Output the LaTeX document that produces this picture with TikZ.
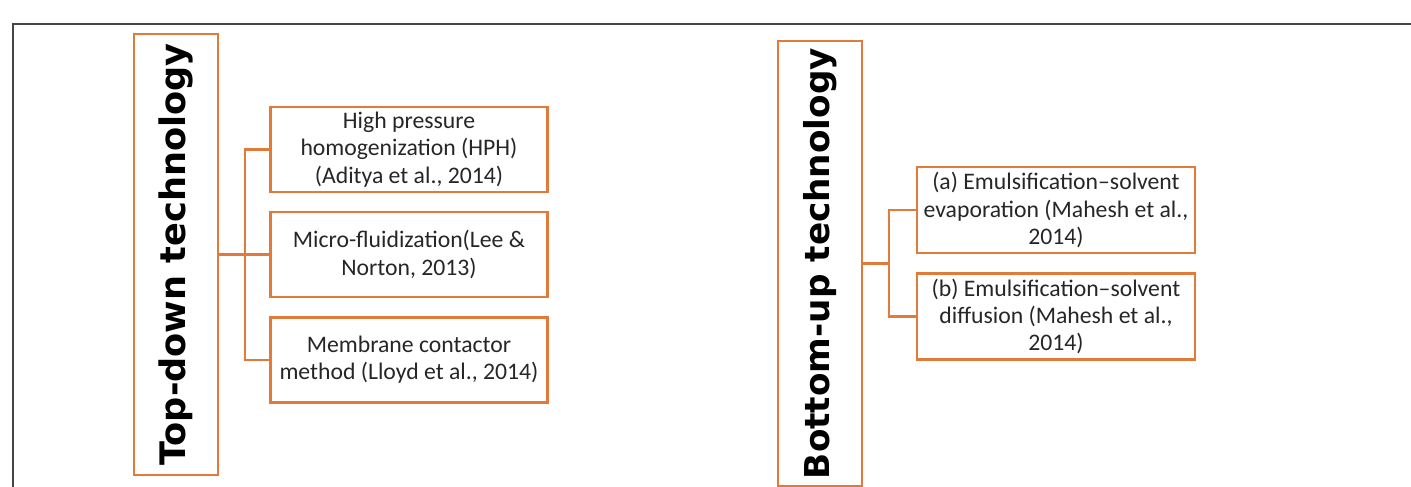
\documentclass[tikz,border=0pt]{standalone}
\usepackage{fontspec}
\setmainfont{Carlito}
\newfontfamily\headfont{DejaVu Sans}
\usepackage{tikz}

\definecolor{boxorange}{HTML}{E07B39}
\definecolor{framegray}{HTML}{454545}

\begin{document}
\begin{tikzpicture}[x=0.02cm,y=-0.02cm,
    techbox/.style={draw=boxorange,line width=1.5pt,minimum width=1.68cm,inner sep=0pt},
    methodbox/.style={draw=boxorange,line width=1.5pt,minimum width=5.54cm,minimum height=1.7cm,
      align=center,inner sep=1pt,font=\fontsize{13.5}{15.5}\selectfont,text=black!85},
    branch/.style={draw=boxorange,line width=1.5pt}]
      \useasboundingbox (0,0) rectangle (1411,487);
      \draw[framegray,line width=1.5pt] (13,487) -- (13,24) -- (1411,24);
      % top-down side
      \node[techbox,minimum height=8.82cm] (td) at (176,254.5)
        {\rotatebox{90}{\headfont\bfseries\fontsize{20}{22}\selectfont Top-down technology}};
      \node[methodbox] (hph) at (409,149.5) {High pressure\\homogenization (HPH)\\(Aditya et al., 2014)};
      \node[methodbox] (mfz) at (409,254.5) {Micro-fluidization(Lee \&\\Norton, 2013)};
      \node[methodbox] (mcm) at (409,360) {Membrane contactor\\method (Lloyd et al., 2014)};
      \coordinate (tdj) at (245,254.5);
      \draw[branch] (td.east) -- (mfz.west);
      \draw[branch] (hph.west) -- (tdj |- hph.west) -- (tdj |- mcm.west) -- (mcm.west);
      % bottom-up side
      \node[techbox,minimum height=8.9cm] (bu) at (820,263.5)
        {\rotatebox{90}{\headfont\bfseries\fontsize{19.5}{22}\selectfont Bottom-up technology}};
      \node[methodbox,minimum width=5.56cm,minimum height=1.72cm] (esa) at (1056,210)
        {(a) Emulsification–solvent\\evaporation (Mahesh et al.,\\2014)};
      \node[methodbox,minimum width=5.56cm,minimum height=1.72cm] (esb) at (1056,316.5)
        {(b) Emulsification–solvent\\diffusion (Mahesh et al.,\\2014)};
      \coordinate (buj) at (889,263.5);
      \draw[branch] (bu.east) -- (buj);
      \draw[branch] (esa.west) -- (buj |- esa.west) -- (buj |- esb.west) -- (esb.west);
\end{tikzpicture}
\end{document}
